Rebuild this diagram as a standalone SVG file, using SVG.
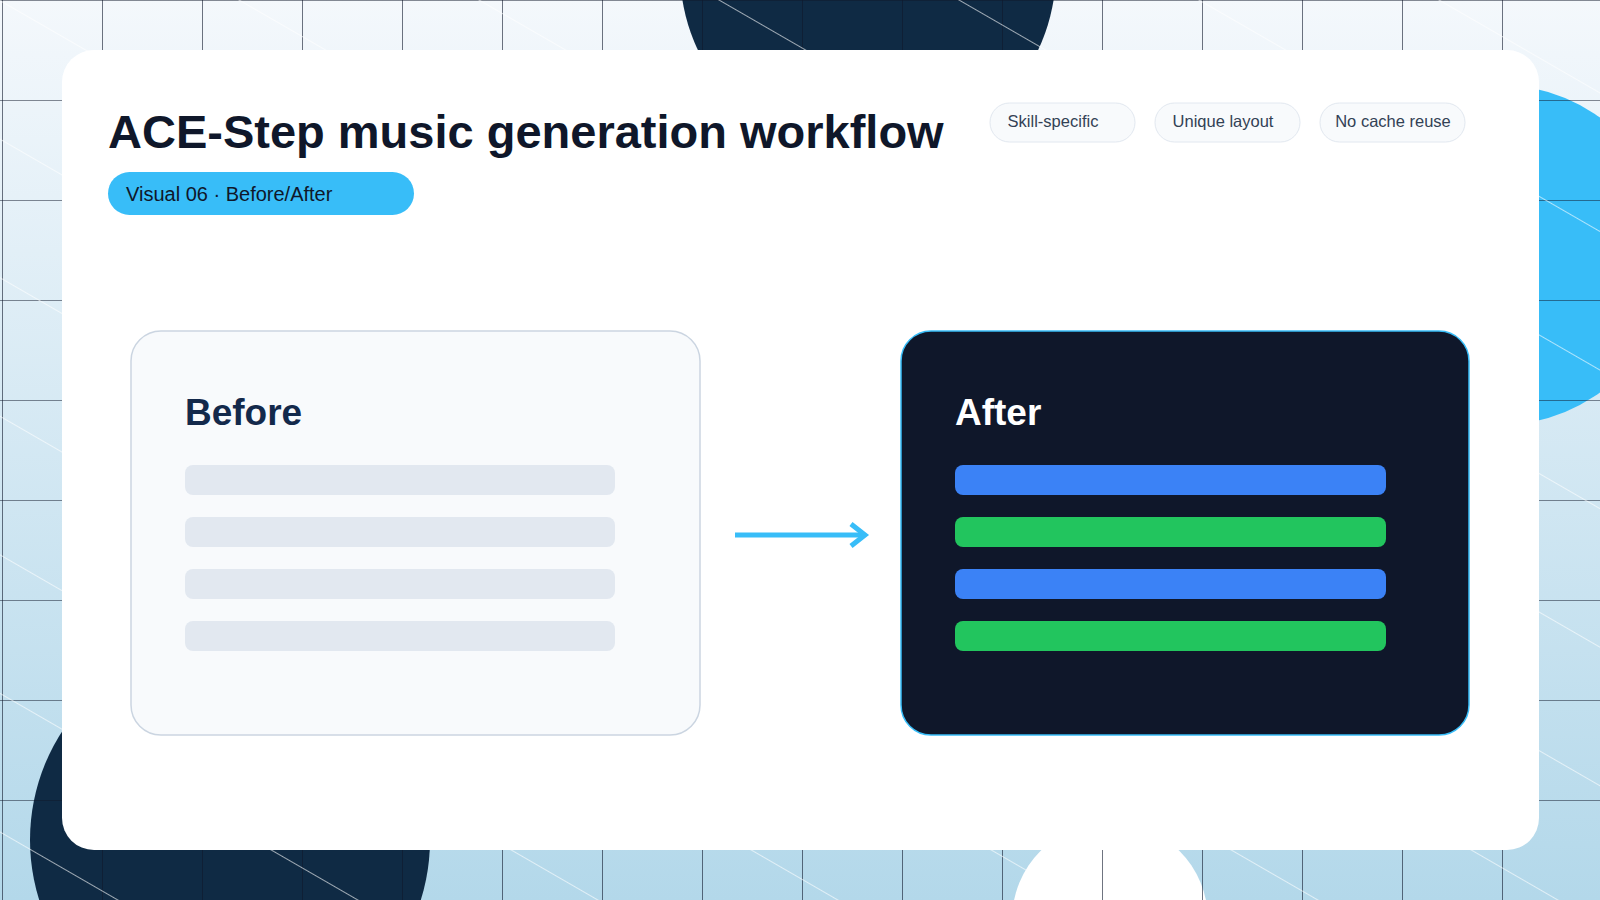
<svg xmlns="http://www.w3.org/2000/svg" width="1600" height="900" viewBox="0 0 1600 900">
<defs>
<linearGradient id="bg" x1="0" y1="0" x2="0" y2="1"><stop offset="0" stop-color="#f4f8fc"/><stop offset="1" stop-color="#b3d8ea"/></linearGradient>
<pattern id="grid" width="100" height="100" patternUnits="userSpaceOnUse" x="2" y="0"><path d="M0 0V100M0 0H100" stroke="#0f172a" stroke-width="1.2" fill="none"/></pattern>
<pattern id="diag" width="120" height="120" patternUnits="userSpaceOnUse" patternTransform="rotate(30)"><path d="M0 0H120" stroke="#fff" stroke-width="1.3" opacity="0.8"/></pattern>
<marker id="ah" markerWidth="10" markerHeight="10" refX="5" refY="5" orient="auto" markerUnits="userSpaceOnUse"><path d="M0 -4 L12 5 L0 14" transform="translate(-4,0) scale(0.9)" fill="none" stroke="#38bdf8" stroke-width="4"/></marker>
<style>
.tag{fill:#f8fafc;stroke:#e2e8f0;stroke-width:1}
.tagt{font-family:"Liberation Sans",Arial,sans-serif;font-size:16.5px;fill:#334155;text-anchor:middle}
.bar{rx:8}
.h{font-family:"Liberation Sans",Arial,sans-serif;font-weight:bold;font-size:37px}
</style>
</defs>
<rect width="1600" height="900" fill="url(#bg)"/>
<circle cx="868" cy="-30" r="188" fill="#0f2a44"/>
<circle cx="230" cy="840" r="200" fill="#0f2a44"/>
<circle cx="1500" cy="255" r="170" fill="#38bdf8"/>
<circle cx="1110" cy="920" r="98" fill="#ffffff"/>
<rect width="1600" height="900" fill="url(#grid)"/>
<rect width="1600" height="900" fill="url(#diag)"/>
<rect x="62" y="50" width="1477" height="800" rx="32" fill="#ffffff"/>
<g id="title">
<text x="108" y="148" font-family="Liberation Sans,Arial,sans-serif" font-weight="bold" font-size="47" fill="#0f172a">ACE-Step music generation workflow</text>
</g>
<g id="pill"><rect x="108" y="172" width="306" height="43" rx="21.5" fill="#38bdf8"/><text x="126" y="201" font-family="Liberation Sans,Arial,sans-serif" font-size="20" fill="#0f172a">Visual 06 · Before/After</text></g>
<g id="tag1"><rect class="tag" x="990" y="103" width="145" height="39" rx="19.5"/><text class="tagt" x="1053" y="127">Skill-specific</text></g>
<g id="tag2"><rect class="tag" x="1155" y="103" width="145" height="39" rx="19.5"/><text class="tagt" x="1223" y="127">Unique layout</text></g>
<g id="tag3"><rect class="tag" x="1320" y="103" width="145" height="39" rx="19.5"/><text class="tagt" x="1393" y="127">No cache reuse</text></g>
<g id="before">
<rect x="131" y="331" width="569" height="404" rx="30" fill="#f8fafc" stroke="#cbd5e1" stroke-width="1.5"/>
<text class="h" x="185" y="425" fill="#13294b">Before</text>
<rect class="bar" x="185" y="465" width="430" height="30" fill="#e2e8f0"/>
<rect class="bar" x="185" y="517" width="430" height="30" fill="#e2e8f0"/>
<rect class="bar" x="185" y="569" width="430" height="30" fill="#e2e8f0"/>
<rect class="bar" x="185" y="621" width="430" height="30" fill="#e2e8f0"/>
</g>
<g id="after">
<rect x="901" y="331" width="568" height="404" rx="30" fill="#0f172a" stroke="#38bdf8" stroke-width="1.5"/>
<text class="h" x="955" y="425" fill="#ffffff">After</text>
<rect class="bar" x="955" y="465" width="431" height="30" fill="#3b82f6"/>
<rect class="bar" x="955" y="517" width="431" height="30" fill="#22c55e"/>
<rect class="bar" x="955" y="569" width="431" height="30" fill="#3b82f6"/>
<rect class="bar" x="955" y="621" width="431" height="30" fill="#22c55e"/>
</g>
<g id="connectors">
<line x1="735" y1="535" x2="862" y2="535" stroke="#38bdf8" stroke-width="5"/>
<path d="M851 524 L865 535 L851 546" fill="none" stroke="#38bdf8" stroke-width="5"/>
</g>
</svg>
